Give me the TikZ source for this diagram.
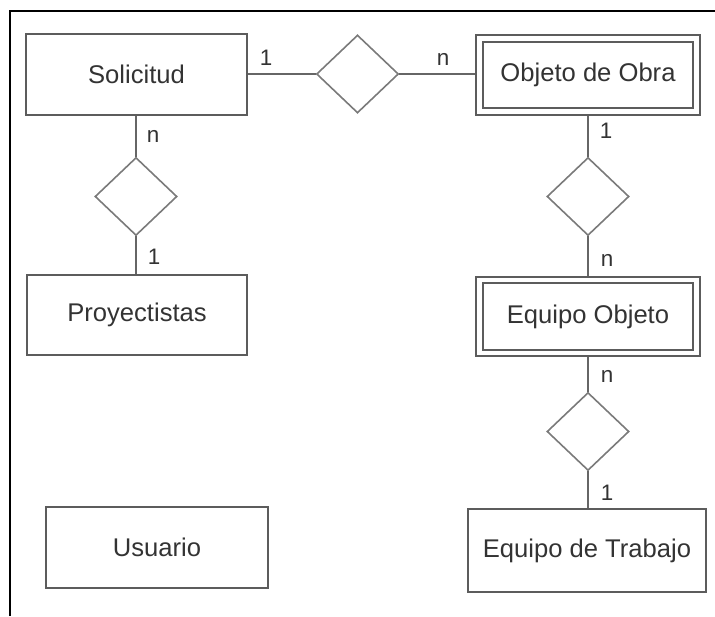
\documentclass[tikz,border=0pt]{standalone}
\usepackage{fontspec}
\setmainfont{Liberation Sans}
\usetikzlibrary{shapes.geometric}
\definecolor{boxgray}{HTML}{5C5C5C}
\definecolor{diagray}{HTML}{7A7A7A}
\definecolor{linegray}{HTML}{666666}
\definecolor{txtgray}{HTML}{333333}
\tikzset{
  entity/.style={draw=boxgray, line width=1pt, rectangle, inner sep=0pt, text=txtgray,
    font=\fontsize{12.8}{15}\selectfont},
  rel/.style={draw=diagray, line width=0.8pt, diamond, aspect=1, inner sep=0pt,
    minimum width=41pt, minimum height=39pt},
  conn/.style={draw=linegray, line width=0.8pt},
  card/.style={anchor=base, text=txtgray, inner sep=0pt, font=\fontsize{11.2}{13}\selectfont},
  frameline/.style={draw=black, line width=1.1pt}
}
\begin{document}
\begin{tikzpicture}[x=0.5pt,y=-0.5pt]
\useasboundingbox (0,0) rectangle (715,616);
\draw[frameline] (10,616) -- (10,11) -- (715,11);

% entities
\node[entity, minimum width=110.5pt, minimum height=40.5pt] (sol) at (136.5,74.5) {Solicitud};
\node[entity, minimum width=110pt, minimum height=40pt] (proy) at (137,315) {Proyectistas};
\node[entity, minimum width=111pt, minimum height=40.5pt] (usu) at (157,547.5) {Usuario};
\node[entity, minimum width=112pt, minimum height=40pt] (obra) at (588,75) {Objeto de Obra};
\node[entity, minimum width=112pt, minimum height=39.5pt] (eqobj) at (588,316.5) {Equipo Objeto};
\node[entity, minimum width=119pt, minimum height=41.5pt] (eqtr) at (587,550.5) {Equipo de Trabajo};
\draw[draw=boxgray, line width=1pt] ([xshift=4pt,yshift=-3.8pt]obra.north west) rectangle ([xshift=-4pt,yshift=3.8pt]obra.south east);
\draw[draw=boxgray, line width=1pt] ([xshift=4pt,yshift=-3.6pt]eqobj.north west) rectangle ([xshift=-4pt,yshift=3.6pt]eqobj.south east);

% relationships
\node[rel] (r1) at (357.5,74) {};
\node[rel] (r2) at (136,196.5) {};
\node[rel] (r3) at (588,196.5) {};
\node[rel] (r4) at (588,431.5) {};

% connectors
\draw[conn] (sol.east |- r1.west) -- (r1.west);
\draw[conn] (r1.east) -- (r1.east -| obra.west);
\draw[conn] (r2.north |- sol.south) -- (r2.north);
\draw[conn] (r2.south) -- (r2.south |- proy.north);
\draw[conn] (r3.north |- obra.south) -- (r3.north);
\draw[conn] (r3.south) -- (r3.south |- eqobj.north);
\draw[conn] (r4.north |- eqobj.south) -- (r4.north);
\draw[conn] (r4.south) -- (r4.south |- eqtr.north);

% cardinalities
\node[card] (c1) at (266,65) {1};
\node[card] (c2) at (443,65) {n};
\node[card] (c3) at (153,142) {n};
\node[card] (c4) at (154,264) {1};
\node[card] (c5) at (606,138) {1};
\node[card] (c6) at (607,266) {n};
\node[card] (c7) at (607,382) {n};
\node[card] (c8) at (607,500) {1};
\end{tikzpicture}
\end{document}
